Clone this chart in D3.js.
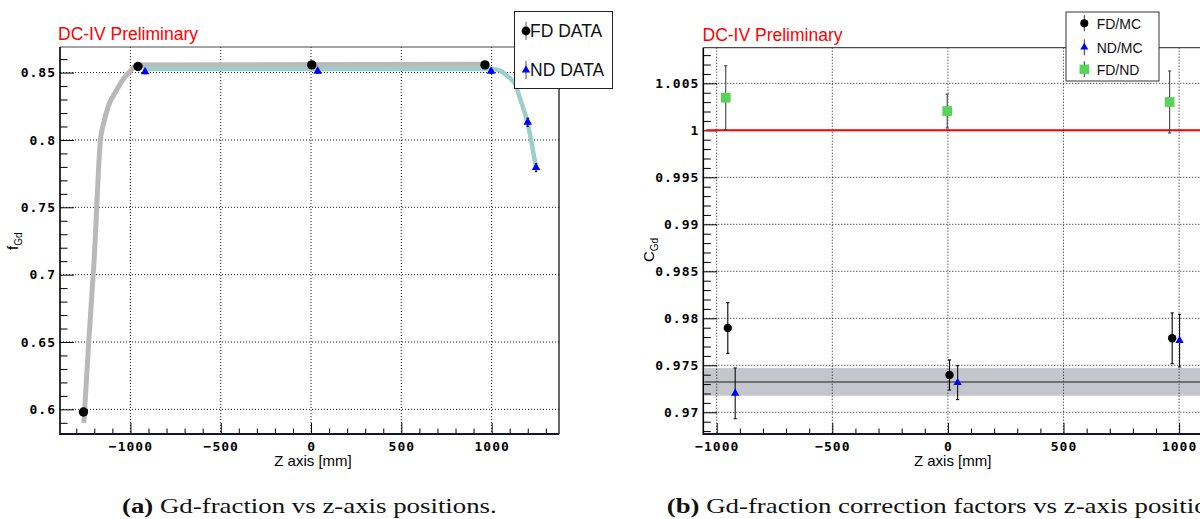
<!DOCTYPE html>
<html>
<head>
<meta charset="utf-8">
<script src="https://cdn.jsdelivr.net/npm/d3@7"></script>
<style>
  html, body { margin: 0; padding: 0; background: #ffffff; }
  svg { display: block; }
</style>
</head>
<body>
<script>
// ---- Panel (a): Gd fraction along the Z axis ----
const fdZ       = [-1260, -958, 4, 963];
const fdFrac    = [0.598, 0.8545, 0.8557, 0.8557];
const fdFracErr = [0.002, 0.0015, 0.0015, 0.0015];

const ndZ       = [-919, 37, 997, 1200, 1246];
const ndFrac    = [0.8507, 0.851, 0.851, 0.8131, 0.7795];
const ndFracErr = [0.0015, 0.0015, 0.0015, 0.003, 0.003];

// smooth trend curves through the FD and ND profiles
const fdCurveZ    = [-1258, -1230, -1201, -1166, -1146, -1120, -1085, -1040, -1002, -960, 963];
const fdCurveFrac = [0.590, 0.652, 0.711, 0.800, 0.8136, 0.826, 0.835, 0.845, 0.851, 0.8557, 0.8562];
const ndCurveZ    = [-930, 1000, 1047, 1085, 1135, 1152, 1200, 1246];
const ndCurveFrac = [0.8527, 0.8527, 0.8515, 0.8477, 0.8403, 0.8329, 0.812, 0.779];

const xTicksA      = [-1000, -500, 0, 500, 1000];
const xTickLabelsA = ["\u22121000", "\u2212500", "0", "500", "1000"];
const yTicksA      = [0.6, 0.65, 0.7, 0.75, 0.8, 0.85];
const yTickLabelsA = ["0.6", "0.65", "0.7", "0.75", "0.8", "0.85"];

// ---- Panel (b): correction factors along the Z axis ----
const fdMcZ   = [-952, 7, 970];
const fdMc    = [0.97897, 0.97397, 0.97787];
const fdMcErr = [0.0027, 0.0016, 0.0027];

const ndMcZ   = [-920, 42, 1002];
const ndMc    = [0.97202, 0.97315, 0.97762];
const ndMcErr = [0.0027, 0.0018, 0.0028];

const fdNdZ   = [-961, -3, 959];
const fdNd    = [1.00347, 1.00205, 1.00301];
const fdNdErr = [0.0034, 0.0018, 0.0033];

const meanCorr    = 0.97323;
const meanCorrErr = 0.00147;
const unity       = 1.0;

const xTicksB      = [-1000, -500, 0, 500, 1000];
const xTickLabelsB = ["\u22121000", "\u2212500", "0", "500", "1000"];
const yTicksB      = [0.97, 0.975, 0.98, 0.985, 0.99, 0.995, 1.0, 1.005];
const yTickLabelsB = ["0.97", "0.975", "0.98", "0.985", "0.99", "0.995", "1", "1.005"];

const legendA = ["FD DATA", "ND DATA"];
const legendB = ["FD/MC", "ND/MC", "FD/ND"];

const captionA = ["(a)", " Gd-fraction vs z-axis positions."];
const captionB = ["(b)", " Gd-fraction correction factors vs z-axis positions."];

// ---------------------------------------------------------------
const svg = d3.select("body").append("svg")
  .attr("width", 1200).attr("height", 519);

const TICK_FONT = "'DejaVu Sans Mono', monospace";
const SANS = "'Liberation Sans', Arial, sans-serif";
const SERIF = "'Liberation Serif', 'Times New Roman', serif";

function minorTicks(lo, hi, step, majors) {
  const out = [];
  for (let v = Math.ceil(lo / step) * step; v <= hi + 1e-9; v += step) {
    const r = +v.toFixed(6);
    if (!majors.some(m => Math.abs(m - r) < step * 1e-3)) out.push(r);
  }
  return out;
}

function styleAxis(g) {
  g.select(".domain").remove();
  g.selectAll(".tick line").attr("stroke", "#000").attr("stroke-width", 1);
  g.selectAll(".tick text")
    .attr("fill", "#000")
    .style("font-family", TICK_FONT)
    .style("font-weight", "bold")
    .style("font-size", "13px")
    .style("letter-spacing", "1px");
}

function drawFrame(g, x, y, opt) {
  const [x0, x1] = x.range();
  const [y0, y1] = y.range(); // y0 bottom, y1 top
  const xd = x.domain(), yd = y.domain();

  // dotted grid at major ticks
  const grid = g.append("g")
    .attr("stroke", "#000").attr("stroke-width", 1)
    .attr("stroke-dasharray", "1,2").attr("opacity", 0.9);
  grid.selectAll("line.v").data(opt.xTicks).join("line")
    .attr("x1", d => x(d)).attr("x2", d => x(d))
    .attr("y1", y1).attr("y2", y0);
  grid.selectAll("line.h").data(opt.yTicks).join("line")
    .attr("x1", x0).attr("x2", x1)
    .attr("y1", d => y(d)).attr("y2", d => y(d));

  // bottom axis: major + minor
  const bx = g.append("g").attr("transform", `translate(0,${y0})`)
    .call(d3.axisBottom(x).tickValues(opt.xTicks).tickSize(-11).tickPadding(7.5)
      .tickFormat((d, i) => opt.xLabels[i]));
  styleAxis(bx);
  const bxm = g.append("g").attr("transform", `translate(0,${y0})`)
    .call(d3.axisBottom(x).tickValues(minorTicks(xd[0], xd[1], opt.xMinor, opt.xTicks))
      .tickSize(-5.5).tickFormat(""));
  styleAxis(bxm);

  // left axis: major + minor
  const ly = g.append("g").attr("transform", `translate(${x0},0)`)
    .call(d3.axisLeft(y).tickValues(opt.yTicks).tickSize(-14).tickPadding(4)
      .tickFormat((d, i) => opt.yLabels[i]));
  styleAxis(ly);
  const lym = g.append("g").attr("transform", `translate(${x0},0)`)
    .call(d3.axisLeft(y).tickValues(minorTicks(yd[0], yd[1], opt.yMinor, opt.yTicks))
      .tickSize(-7.5).tickFormat(""));
  styleAxis(lym);
}

function drawFrameLines(g, x, y, rightEdge) {
  const [x0, x1] = x.range();
  const [y0, y1] = y.range();
  g.append("line").attr("x1", x0).attr("x2", Math.min(x1, 1200)).attr("y1", y1).attr("y2", y1)
    .attr("stroke", "#4a4a4a").attr("stroke-width", 1.2);
  if (rightEdge) {
    g.append("line").attr("x1", x1).attr("x2", x1).attr("y1", y1).attr("y2", y0)
      .attr("stroke", "#000").attr("stroke-width", 1.2);
  }
  g.append("line").attr("x1", x0).attr("x2", x0).attr("y1", y1).attr("y2", y0 + 1)
    .attr("stroke", "#000").attr("stroke-width", 1.6);
  g.append("line").attr("x1", x0).attr("x2", Math.min(x1, 1200)).attr("y1", y0).attr("y2", y0)
    .attr("stroke", "#14143a").attr("stroke-width", 2.2);
}

function errorBars(g, xs, vs, es, x, y, color, cap) {
  const eg = g.append("g").attr("stroke", color).attr("stroke-width", 1.1);
  xs.forEach((z, i) => {
    const cx = x(z), ya = y(vs[i] - es[i]), yb = y(vs[i] + es[i]);
    eg.append("line").attr("x1", cx).attr("x2", cx).attr("y1", ya).attr("y2", yb);
    if (cap) {
      eg.append("line").attr("x1", cx - cap).attr("x2", cx + cap).attr("y1", ya).attr("y2", ya);
      eg.append("line").attr("x1", cx - cap).attr("x2", cx + cap).attr("y1", yb).attr("y2", yb);
    }
  });
}

function markers(g, xs, vs, x, y, kind, size, color) {
  const sym = kind === "circle" ? d3.symbolCircle : kind === "triangle" ? d3.symbolTriangle : d3.symbolSquare;
  g.append("g").selectAll("path").data(xs).join("path")
    .attr("transform", (z, i) => `translate(${x(z)},${y(vs[i])})`)
    .attr("d", d3.symbol(sym, size))
    .attr("fill", color);
}

function yTitle(x, y, main, sub) {
  const t = svg.append("text")
    .attr("transform", `translate(${x},${y}) rotate(-90)`)
    .attr("fill", "#000").style("font-family", SANS).style("font-size", "15px");
  t.append("tspan").text(main);
  t.append("tspan").attr("dy", 4).style("font-size", "10px").text(sub);
}

// ================= Panel (a) =================
const xA = d3.scaleLinear().domain([-1390, 1373]).range([60, 559]);
const yA = d3.scaleLinear().domain([0.5817, 0.869]).range([434, 47]);
const gA = svg.append("g");

drawFrame(gA, xA, yA, {
  xTicks: xTicksA, xLabels: xTickLabelsA, xMinor: 100,
  yTicks: yTicksA, yLabels: yTickLabelsA, yMinor: 0.01
});

const lineA = (zs, fs) => d3.line().curve(d3.curveMonotoneX)
  .x((d, i) => xA(zs[i])).y((d, i) => yA(fs[i]))(zs);

gA.append("path").attr("d", lineA(fdCurveZ, fdCurveFrac))
  .attr("fill", "none").attr("stroke", "#b9b9b9").attr("stroke-width", 5)
  .attr("stroke-linecap", "butt");
gA.append("path").attr("d", lineA(ndCurveZ, ndCurveFrac))
  .attr("fill", "none").attr("stroke", "#9ccfcc").attr("stroke-width", 4.5)
  .attr("stroke-linecap", "butt");

errorBars(gA, fdZ, fdFrac, fdFracErr, xA, yA, "#000", 0);
errorBars(gA, ndZ, ndFrac, ndFracErr, xA, yA, "#000", 1.2);
markers(gA, fdZ, fdFrac, xA, yA, "circle", Math.PI * 4.7 * 4.7, "#000");
markers(gA, ndZ, ndFrac, xA, yA, "triangle", 32, "#0000ff");

drawFrameLines(gA, xA, yA, true);

// legend (a)
const legA = svg.append("g");
legA.append("rect").attr("x", 514.5).attr("y", 11.5).attr("width", 98).attr("height", 77)
  .attr("fill", "#fff").attr("stroke", "#222").attr("stroke-width", 1);
[31, 70].forEach((cy, i) => {
  legA.append("line").attr("x1", 526).attr("x2", 526).attr("y1", cy - 9).attr("y2", cy + 9)
    .attr("stroke", "#555").attr("stroke-width", 1);
  legA.append("path").attr("transform", `translate(526,${cy})`)
    .attr("d", d3.symbol(i === 0 ? d3.symbolCircle : d3.symbolTriangle, i === 0 ? Math.PI * 4.4 * 4.4 : 30))
    .attr("fill", i === 0 ? "#000" : "#0000ff");
  legA.append("text").attr("x", 530).attr("y", cy + 6.2)
    .attr("fill", "#111").style("font-family", SANS).style("font-size", "17.5px")
    .text(legendA[i]);
});

svg.append("text").attr("x", 58).attr("y", 39.5)
  .attr("fill", "#ff0000").style("font-family", SANS).style("font-size", "17.5px")
  .text("DC-IV Preliminary");

svg.append("text").attr("x", 313).attr("y", 466).attr("text-anchor", "middle")
  .attr("fill", "#000").style("font-family", SANS).style("font-size", "15px")
  .text("Z axis [mm]");
yTitle(18, 250, "f", "Gd");

// ================= Panel (b) =================
const xB = d3.scaleLinear().domain([-1058, 1150]).range([703.3, 703.3 + 2208 * 0.2312]);
const yB = d3.scaleLinear().domain([0.96769, 1.00879]).range([434, 47.7]);
const gB = svg.append("g");

// mean correction band
gB.append("rect")
  .attr("x", xB.range()[0] + 1).attr("width", 1200 - xB.range()[0])
  .attr("y", yB(meanCorr + meanCorrErr))
  .attr("height", yB(meanCorr - meanCorrErr) - yB(meanCorr + meanCorrErr))
  .attr("fill", "#c3c6cd");

drawFrame(gB, xB, yB, {
  xTicks: xTicksB, xLabels: xTickLabelsB, xMinor: 100,
  yTicks: yTicksB, yLabels: yTickLabelsB, yMinor: 0.001
});

gB.append("line").attr("x1", xB.range()[0] + 1).attr("x2", 1200)
  .attr("y1", yB(meanCorr)).attr("y2", yB(meanCorr))
  .attr("stroke", "#555").attr("stroke-width", 1.5);
gB.append("line").attr("x1", xB.range()[0] + 3).attr("x2", 1200)
  .attr("y1", yB(unity)).attr("y2", yB(unity))
  .attr("stroke", "#ff0000").attr("stroke-width", 2);

errorBars(gB, fdMcZ, fdMc, fdMcErr, xB, yB, "#000", 1.6);
errorBars(gB, ndMcZ, ndMc, ndMcErr, xB, yB, "#111", 1.6);
errorBars(gB, fdNdZ, fdNd, fdNdErr, xB, yB, "#444", 1.6);
markers(gB, fdMcZ, fdMc, xB, yB, "circle", Math.PI * 4.2 * 4.2, "#000");
markers(gB, ndMcZ, ndMc, xB, yB, "triangle", 30, "#0000ff");
markers(gB, fdNdZ, fdNd, xB, yB, "square", 95, "#58d358");

drawFrameLines(gB, xB, yB, false);

// legend (b)
const legB = svg.append("g");
legB.append("rect").attr("x", 1066).attr("y", 12).attr("width", 93).attr("height", 69)
  .attr("fill", "#fff").attr("stroke", "#333").attr("stroke-width", 1);
const legBY = [23.3, 47.3, 69.3];
const legBSym = [d3.symbolCircle, d3.symbolTriangle, d3.symbolSquare];
const legBSize = [Math.PI * 4 * 4, 28, 90];
const legBCol = ["#000", "#0000ff", "#58d358"];
legBY.forEach((cy, i) => {
  legB.append("line").attr("x1", 1084.3).attr("x2", 1084.3).attr("y1", cy - 8).attr("y2", cy + 8)
    .attr("stroke", "#333").attr("stroke-width", 1);
  legB.append("path").attr("transform", `translate(1084.3,${cy})`)
    .attr("d", d3.symbol(legBSym[i], legBSize[i])).attr("fill", legBCol[i]);
  legB.append("text").attr("x", 1096.7).attr("y", cy + 5.2)
    .attr("fill", "#111").style("font-family", SANS).style("font-size", "14px")
    .text(legendB[i]);
});

svg.append("text").attr("x", 702.5).attr("y", 41.3)
  .attr("fill", "#ff0000").style("font-family", SANS).style("font-size", "17.5px")
  .text("DC-IV Preliminary");

svg.append("text").attr("x", 952.7).attr("y", 466).attr("text-anchor", "middle")
  .attr("fill", "#000").style("font-family", SANS).style("font-size", "15px")
  .text("Z axis [mm]");
yTitle(653.5, 262, "C", "Gd");

// ================= captions =================
function caption(parts, x, y) {
  const t = svg.append("text").attr("fill", "#111")
    .style("font-family", SERIF).style("font-size", "20px");
  t.append("tspan").style("font-weight", "bold").text(parts[0]);
  t.append("tspan").text(parts[1]);
  return { t, x, y };
}
const capA = caption(captionA, 122, 513);
const capB = caption(captionB, 666.7, 513);
const natA = capA.t.node().getComputedTextLength();
const sx = 375 / natA;
[capA, capB].forEach(c => c.t.attr("transform", `translate(${c.x},${c.y}) scale(${sx},1)`));
</script>
</body>
</html>
